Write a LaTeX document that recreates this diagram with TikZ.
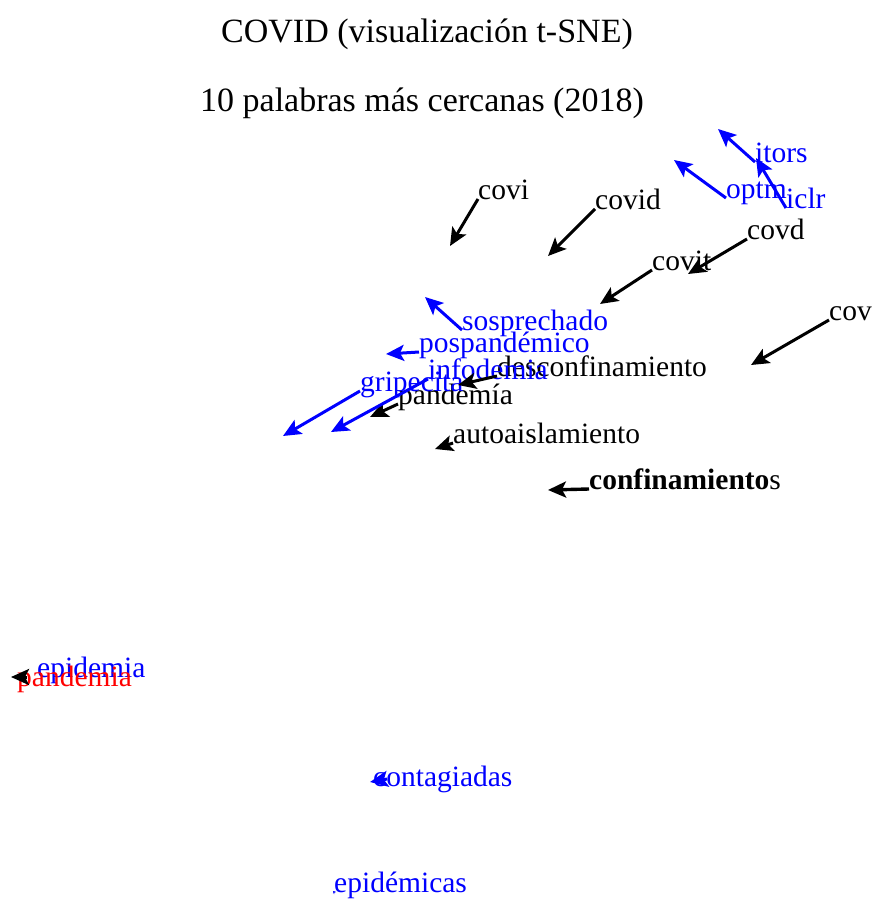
\documentclass[tikz,border=0pt]{standalone}
\usepackage{fontspec}
\setmainfont{Liberation Serif}
\usetikzlibrary{arrows.meta}
\begin{document}
\begin{tikzpicture}[x=1pt,y=-1pt,
  lbl/.style={anchor=base west,inner sep=0pt,font=\fontsize{29.5}{32}\selectfont,text=black},
  blbl/.style={lbl,text=blue},
  rlbl/.style={lbl,text=red},
  ttl/.style={anchor=base,inner sep=0pt,font=\fontsize{34}{38}\selectfont},
  arr/.style={line width=3pt,draw=black,-{Stealth[length=18pt,width=16pt,inset=4pt]}},
  barr/.style={arr,draw=blue}]
\useasboundingbox (0,0) rectangle (874,902);
% titles
\node[ttl] (t1) at (427,42) {COVID (visualización t-SNE)};
\node[ttl] (t2) at (422,111) {10 palabras más cercanas (2018)};
% target points of the arrows
\coordinate (pcovi) at (450,246);
\coordinate (pcovid) at (548,256);
\coordinate (pcovit) at (600,304);
\coordinate (pcovd) at (688,274);
\coordinate (pcov) at (751,365);
\coordinate (pdesc) at (458,385);
\coordinate (ppandem) at (370,417);
\coordinate (pauto) at (435,449);
\coordinate (pconf) at (548,490);
\coordinate (pitors) at (718,129);
\coordinate (poptm) at (674,160);
\coordinate (piclr) at (756,158);
\coordinate (psosp) at (425,297);
\coordinate (ppos) at (386,354);
\coordinate (pinfo) at (331,432);
\coordinate (pgrip) at (283,436);
\coordinate (ppand) at (11,677);
\coordinate (pcont) at (370,782);
\coordinate (pepis) at (333,891);
% black labels
\node[lbl] (covi) at (478,199) {covi};
\node[lbl] (covid) at (595,209) {covid};
\node[lbl] (covit) at (652,270) {covit};
\node[lbl] (covd) at (747,239) {covd};
\node[lbl] (cov) at (829,320) {cov};
\node[lbl] (desc) at (497,376) {desconfinamiento};
\node[lbl] (pandem) at (398,404) {pandemía};
\node[lbl] (auto) at (453,443) {autoaislamiento};
\node[lbl] (conf) at (589,489) {\textbf{confinamiento}s};
% blue labels
\node[blbl] (itors) at (755,162) {itors};
\node[blbl] (optm) at (726,198) {optm};
\node[blbl] (iclr) at (786,208) {iclr};
\node[blbl] (sosp) at (462,330) {sosprechado};
\node[blbl] (pos) at (419,352) {pospandémico};
\node[blbl] (info) at (428,379) {infodemia};
\node[blbl] (grip) at (360,391) {gripecita};
\node[blbl] (epid) at (37,677) {epidemia};
\node[rlbl] (pand) at (17,686) {pandemia};
\node[blbl] (cont) at (373,786) {contagiadas};
\node[blbl] (epis) at (334,892) {epidémicas};
% connectors
\draw[arr] (covi.base west) -- (pcovi);
\draw[arr] (covid.base west) -- (pcovid);
\draw[arr] (covit.base west) -- (pcovit);
\draw[arr] (covd.base west) -- (pcovd);
\draw[arr] (cov.base west) -- (pcov);
\draw[arr] (desc.base west) -- (pdesc);
\draw[arr] (pandem.base west) -- (ppandem);
\draw[arr] (auto.base west) -- (pauto);
\draw[arr,line width=3.4pt] (conf.base west) -- (pconf);
\draw[barr] (itors.base west) -- (pitors);
\draw[barr] (optm.base west) -- (poptm);
\draw[barr] (iclr.base west) -- (piclr);
\draw[barr] (sosp.base west) -- (psosp);
\draw[barr] (pos.base west) -- (ppos);
\draw[barr] (info.base west) -- (pinfo);
\draw[barr] (grip.base west) -- (pgrip);
\draw[barr] ([shift={(14,-7)}]cont.base west) -- (pcont);
\draw[barr,-{Stealth[length=3pt,width=3pt]}] (epis.base west) -- (pepis);
\draw[arr] ([shift={(10,-9)}]pand.base west) -- (ppand);
\end{tikzpicture}
\end{document}
